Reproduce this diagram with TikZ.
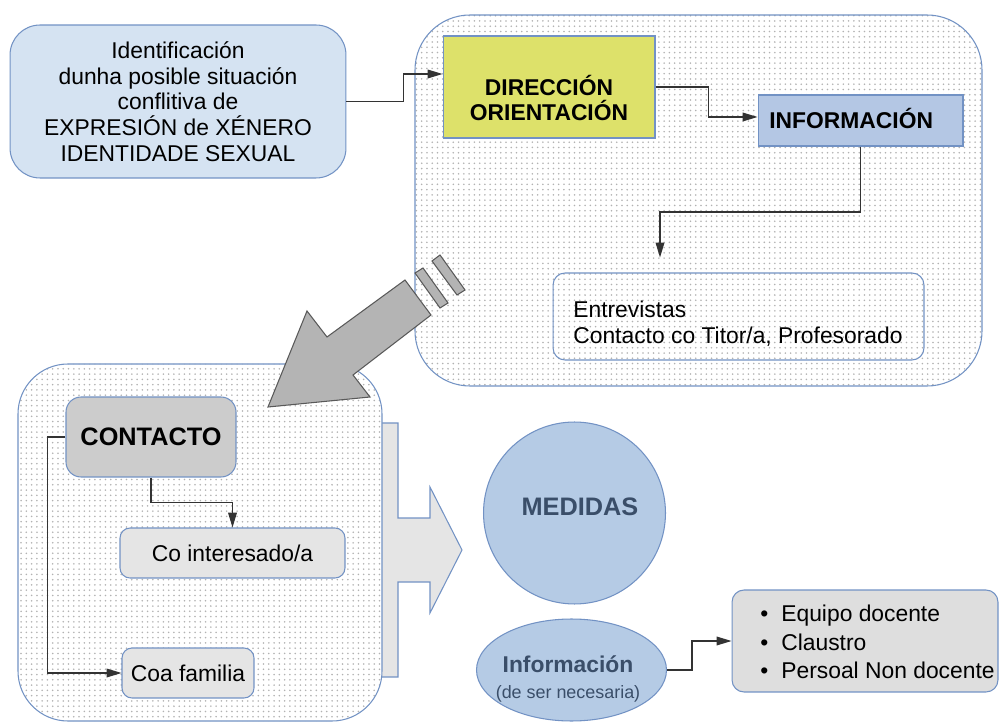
\documentclass[tikz,border=0pt]{standalone}
\usepackage{fontspec}
\setmainfont{Liberation Sans}
\usetikzlibrary{arrows.meta,patterns,shapes.geometric,calc}

\definecolor{bordblue}{RGB}{114,146,196}
\definecolor{palblue}{RGB}{213,227,242}
\definecolor{yelgreen}{RGB}{221,225,106}
\definecolor{infblue}{RGB}{180,199,228}
\definecolor{medblue}{RGB}{181,203,229}
\definecolor{medtext}{RGB}{58,78,105}
\definecolor{arrgray}{RGB}{180,180,180}

\tikzset{
  txt/.style={font=\fontsize{13pt}{14.6pt}\selectfont, align=center, inner sep=0pt},
  boldtxt/.style={font=\fontsize{13pt}{14.4pt}\selectfont\bfseries, align=center, inner sep=0pt},
  wall/.style={draw=bordblue, line width=0.6pt, rounded corners=1.1cm, preaction={fill=white}, pattern=dots, pattern color=black!30},
  identbox/.style={draw=bordblue, line width=0.6pt, fill=palblue, rounded corners=0.6cm, minimum width=6.72cm, minimum height=3.06cm},
  dirbox/.style={draw=bordblue, line width=0.6pt, fill=yelgreen, minimum width=4.24cm, minimum height=2.04cm},
  infobox/.style={draw=bordblue, line width=0.6pt, fill=infblue, minimum width=4.1cm, minimum height=1.02cm},
  entrbox/.style={draw=bordblue, line width=0.6pt, rounded corners=0.24cm, minimum width=7.42cm, minimum height=1.74cm},
  contbox/.style={draw=bordblue, line width=0.6pt, fill=black!20, rounded corners=0.3cm, minimum width=3.4cm, minimum height=1.6cm, font=\fontsize{14.4pt}{16pt}\selectfont\bfseries},
  smallbox/.style={draw=bordblue, line width=0.6pt, fill=black!10, rounded corners=0.2cm, minimum height=1cm, font=\fontsize{13pt}{14.6pt}\selectfont},
  lstbox/.style={draw=bordblue, line width=0.6pt, fill=black!13, rounded corners=0.24cm, minimum width=5.32cm, minimum height=2.04cm},
  medcirc/.style={circle, draw=bordblue, line width=0.6pt, fill=medblue, minimum size=3.64cm},
  medell/.style={ellipse, draw=bordblue, line width=0.6pt, fill=medblue, minimum width=3.8cm, minimum height=2.04cm, inner sep=0pt},
  bigarrow/.style={draw=bordblue, line width=0.6pt, fill=black!10},
  greyarrow/.style={draw=black!65, line width=0.6pt, fill=arrgray},
  conn/.style={draw=black!80, line width=0.6pt, -{Triangle[length=8.5pt,width=5pt]}}
}

\begin{document}
\begin{tikzpicture}[x=0.02cm, y=-0.02cm]
\useasboundingbox (0,0) rectangle (1000,722);
%first frame
\draw[wall] (415,15) rectangle (982,386);

\node[identbox, txt] (ident) at (178,101.5) {Identificación\\dunha posible situación\\conflitiva de\\EXPRESIÓN de XÉNERO\\IDENTIDADE SEXUAL};
\node[dirbox] (dir) at (549,87) {};
\node[boldtxt] at (549,98) {DIRECCIÓN\\ORIENTACIÓN};
\node[infobox] (info) at (860.5,120.5) {};
\node[boldtxt, anchor=west] at (769,118) {INFORMACIÓN};
\node[entrbox] (entr) at (738.5,316.5) {};
\node[txt, anchor=west, align=left, font=\fontsize{13pt}{14.8pt}\selectfont] at (573,324) {Entrevistas\\Contacto co Titor/a, Profesorado};

\draw[conn] (ident.east) -- ++(57,0) |- ([yshift=0.26cm]dir.west);
\draw[conn] (dir.east) -- ++(53,0) |- ([yshift=0.07cm]info.west);
\coordinate (bend) at (660,212);
\draw[conn, shorten >=0.3cm] (info.south) |- (bend) -- (bend |- entr.north);

% %second frame
\draw[bigarrow] (360,423) -- (398,423) -- (398,518) -- (430,518) -- (430,487) -- (462,550) -- (430,613) -- (430,582) -- (398,582) -- (398,677) -- (360,677) -- cycle;
\draw[wall, rounded corners=1cm] (18,364) rectangle (382,721);

\node[contbox] (cont) at (151,437) {CONTACTO};
\node[smallbox, minimum width=4.5cm] (co) at (232.5,553) {Co interesado/a};
\node[smallbox, minimum width=2.64cm] (coa) at (188,673) {Coa familia};

\draw[conn] (cont.south) -- ++(0,25) -| (co.north);
\draw[conn] (cont.west) -- ++(-18,0) |- (coa.west);

%draw the grey arrow
\draw[greyarrow] (268,407) -- (370,397) -- (353,375) -- (431,315) -- (405,280) -- (327,337) -- (307,311) -- cycle;
\draw[greyarrow] (415,273) -- (423,268) -- (448,303) -- (440,308) -- cycle;
\draw[greyarrow] (432,261) -- (440,255) -- (465,290) -- (457,295) -- cycle;

% %draw last
\node[medcirc] (med) at (574.5,513) {};
\node[boldtxt, font=\fontsize{14.4pt}{16pt}\selectfont\bfseries, text=medtext] at (580,507) {MEDIDAS};
\node[medell] (infell) at (571.5,670) {};
\node[txt, text=medtext] at (568,679) {\textbf{Información}\\{\fontsize{10.2pt}{12pt}\selectfont(de ser necesaria)}};
\node[lstbox] (lst) at (865,641) {};
\node[txt, anchor=west, align=left, font=\fontsize{13pt}{16.4pt}\selectfont] at (760,642) {\makebox[0.42cm][l]{•}Equipo docente\\\makebox[0.42cm][l]{•}Claustro\\\makebox[0.42cm][l]{•}Persoal Non docente};

\draw[conn] (infell.east) -- ++(25,0) |- (lst.west);
\end{tikzpicture}
\end{document}
